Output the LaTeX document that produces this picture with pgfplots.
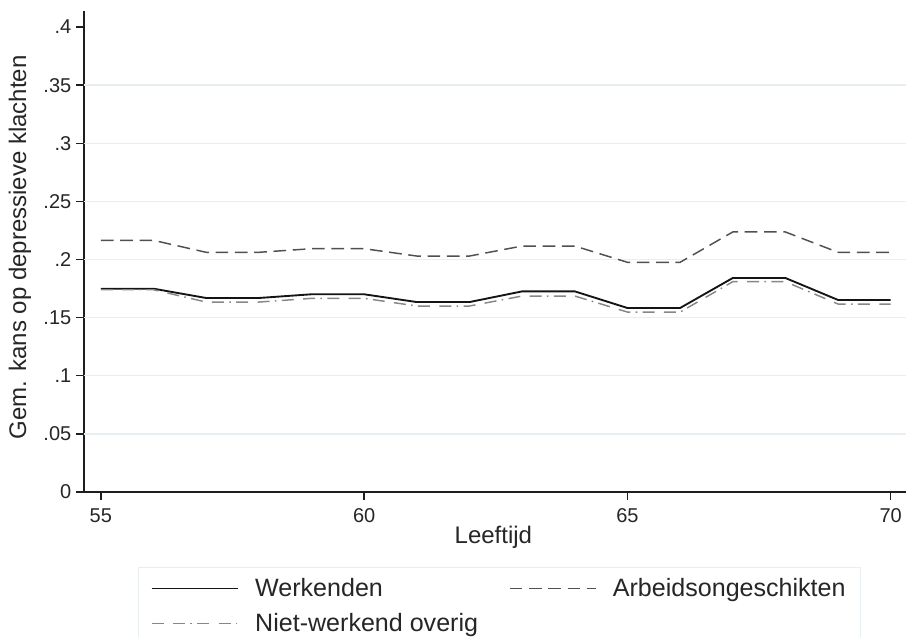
\documentclass[border=0pt]{standalone}
\usepackage{pgfplots}
\pgfplotsset{compat=1.18}
\usepackage{fontspec}
\setmainfont{Liberation Sans}

\definecolor{gridcol}{RGB}{232,239,243}
\definecolor{axiscol}{RGB}{30,30,30}
\definecolor{werk}{RGB}{20,20,20}
\definecolor{arbeid}{RGB}{80,80,80}
\definecolor{overig}{RGB}{135,135,135}

\pgfplotstableread{
age werk arbeid overig
55 0.1749 0.2165 0.1740
56 0.1749 0.2165 0.1740
57 0.1669 0.2062 0.1634
58 0.1669 0.2062 0.1634
59 0.1701 0.2093 0.1666
60 0.1701 0.2093 0.1666
61 0.1634 0.2030 0.1600
62 0.1634 0.2030 0.1600
63 0.1726 0.2116 0.1686
64 0.1726 0.2116 0.1686
65 0.1583 0.1976 0.1548
66 0.1583 0.1976 0.1548
67 0.1841 0.2237 0.1809
68 0.1841 0.2237 0.1809
69 0.1652 0.2062 0.1617
70 0.1652 0.2062 0.1617
}\depdata

\begin{document}
\begin{tikzpicture}
\useasboundingbox (0,0) rectangle (679.5pt,477pt);
\begin{axis}[
  at={(63pt,108pt)}, anchor=south west,
  scale only axis,
  width=616.5pt, height=360.75pt,
  xmin=54.68, xmax=70.29,
  ymin=0, ymax=0.4138,
  axis x line=bottom, axis y line=left,
  axis line style={-, color=axiscol, line width=1.1pt},
  every tick/.style={color=axiscol, line width=1.1pt},
  tick align=outside,
  major tick length=6pt,
  xtick={55,60,65,70},
  ytick={0,0.05,0.1,0.15,0.2,0.25,0.3,0.35,0.4},
  yticklabels={0,.05,.1,.15,.2,.25,.3,.35,.4},
  extra y ticks={0.05,0.1,0.15,0.2,0.25,0.3,0.35},
  extra y tick labels={},
  extra y tick style={major tick length=0pt, ymajorgrids=true,
    major grid style={color=gridcol, line width=1pt}},
  /pgf/number format/assume math mode=true,
  tick label style={font=\fontsize{15}{18}\selectfont, color=black!85},
  xticklabel style={yshift=-3pt},
  xlabel={Leeftijd},
  ylabel={Gem. kans op depressieve klachten},
  label style={font=\fontsize{18}{21}\selectfont, color=black!85},
  xlabel style={at={(axis description cs:0.498,-0.108)}, anchor=base},
  ylabel style={at={(axis description cs:-0.078,0.509)}, anchor=center, rotate=0},
  legend columns=2,
  legend style={
    at={(axis description cs:0.0657,-0.156)}, anchor=north west,
    draw=gridcol, line width=1pt,
    font=\fontsize{18.8}{22}\selectfont,
    text=black!85,
    inner xsep=9pt, inner ysep=6pt,
    row sep=7pt,
    /tikz/every odd column/.append style={column sep=10pt},
    /tikz/every even column/.append style={column sep=21pt},
    cells={anchor=west},
  },
  legend image code/.code={\draw[#1] (0pt,0pt) -- (65pt,0pt);},
  clip=false,
]
\addplot[werk, line width=1.4pt] table[x=age, y=werk] {\depdata};
\addlegendentry{Werkenden}
\addplot[arbeid, line width=1.1pt, dash pattern=on 9.5pt off 5pt] table[x=age, y=arbeid] {\depdata};
\addlegendentry{Arbeidsongeschikten}
\addplot[overig, line width=1.1pt, dash pattern=on 9pt off 7pt on 9pt off 4pt on 1.2pt off 4pt] table[x=age, y=overig] {\depdata};
\addlegendentry{Niet-werkend overig}
\end{axis}
\end{tikzpicture}
\end{document}
